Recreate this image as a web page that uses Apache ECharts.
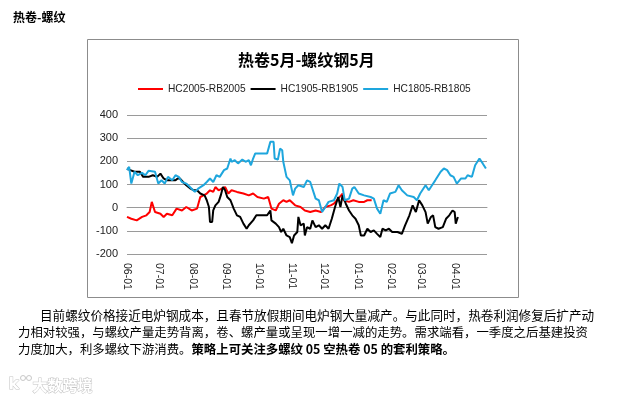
<!DOCTYPE html>
<html><head><meta charset="utf-8">
<script src="https://cdn.jsdelivr.net/npm/echarts@6/dist/echarts.min.js"></script>
<style>html,body{margin:0;padding:0;background:#fff}#c{width:622px;height:399px}</style>
</head><body><div id="c"></div>
<script>
// Series names
const seriesNames = ['HC2005-RB2005', 'HC1905-RB1905', 'HC1805-RB1805'];
// Day offsets from 06-01 and spread values (yuan/t)
const redDay = [0,4,9,14,18,21,23,24,26,31,34,37,42,46,51,55,60,65,68,71,74,77,80,82,85,88,91,94,97,102,108,113,117,121,127,131,134,138,141,145,148,151,156,161,165,170,175,180,184,189,192,196,200,201,206,210,215,220,223,227];
const redVal = [-40,-48,-55,-40,-33,-19,25,17,-19,-26,-40,-26,-33,-4,-12,3,-12,-4,46,53,61,75,68,89,75,82,89,61,75,68,61,53,61,46,39,46,-4,-12,17,32,25,32,10,3,-12,-19,-12,-19,3,10,17,39,61,32,25,32,25,25,32,32];
const blackDay = [0,3,7,12,15,20,24,28,31,34,37,40,45,47,49,52,55,59,62,65,68,72,74,76,77,79,80,82,85,87,89,91,93,96,99,102,105,108,111,113,117,120,125,130,133,134,138,141,143,145,148,151,153,155,158,159,161,164,165,167,170,172,175,178,181,184,187,190,193,196,198,200,203,206,209,212,215,217,220,223,226,229,232,235,237,240,243,246,251,255,258,262,265,268,271,274,277,279,282,284,286,289,293,296,299,302,304,305,307];
const blackVal = [169,162,155,155,133,133,140,133,147,126,118,118,118,126,126,111,97,82,75,75,61,53,32,3,-62,-62,-12,10,25,53,89,75,46,32,-4,-33,-40,-69,-91,-76,-55,-33,-33,-33,-12,-55,-69,-84,-105,-91,-120,-127,-153,-120,-105,-40,-76,-69,-120,-84,-91,-55,-84,-76,-91,-76,-91,-48,3,46,3,53,17,-12,-33,-48,-76,-120,-120,-91,-105,-98,-113,-127,-91,-98,-91,-105,-105,-113,-76,-33,10,-19,32,10,-19,-69,-40,-33,-84,-91,-84,-48,-33,-12,-19,-69,-40];
const blueDay = [0,2,4,7,10,14,17,20,26,29,32,35,38,42,45,48,51,55,60,63,66,71,74,77,80,83,86,90,93,96,97,100,103,107,110,113,115,117,119,124,130,133,136,137,140,142,144,145,148,151,154,156,159,164,167,170,175,178,181,184,187,192,195,197,200,202,206,209,211,215,220,226,229,232,235,238,241,244,249,252,255,260,266,269,272,277,280,283,286,291,294,297,300,303,306,310,314,316,320,323,327,330,333];
const blueVal = [162,176,104,155,140,150,140,159,155,104,118,104,133,118,140,133,111,104,82,68,82,97,111,126,111,140,133,162,169,212,198,205,191,208,198,205,183,212,234,234,234,284,284,212,208,255,248,198,133,118,53,82,97,89,118,111,39,32,-19,3,25,32,61,104,89,32,39,82,89,61,53,46,39,-4,-26,32,25,61,68,97,75,53,46,32,61,97,75,97,118,155,169,162,140,133,104,126,126,140,133,183,212,191,169];
// Axis
const yMin = -200, yMax = 400, yStep = 100;
const chartTitle = '热卷5月-螺纹钢5月';
const pageHeading = '热卷-螺纹';
const paraLine1 = '目前螺纹价格接近电炉钢成本，且春节放假期间电炉钢大量减产。与此同时，热卷利润修复后扩产动';
const paraLine2 = '力相对较强，与螺纹产量走势背离，卷、螺产量或呈现一增一减的走势。需求端看，一季度之后基建投资';
const paraLine3a = '力度加大，利多螺纹下游消费。';
const paraLine3b = '策略上可关注多螺纹 05 空热卷 05 的套利策略。';
const watermark = '大数跨境';

// Build daily categories 06-01 .. 05-01
const cats = [];
for (let i = 0; i <= 334; i++) {
  const d = new Date(2018, 5, 1 + i);
  cats.push(String(d.getMonth() + 1).padStart(2, '0') + '-' + String(d.getDate()).padStart(2, '0'));
}
const pairs = (days, vals) => days.map((d, i) => [d, vals[i]]);
const colors = ['#ff0000', '#000000', '#1ea6dd'];
const chart = echarts.init(document.getElementById('c'));
chart.setOption({
  animation: false,
  backgroundColor: '#fff',
  title: {
    text: chartTitle, left: 233, top: 47,
    textStyle: { fontFamily: 'Noto Sans CJK SC', fontSize: 16, fontWeight: 'bold', color: '#000' }
  },
  legend: {
    data: seriesNames, left: 138, top: 84, padding: 0, icon: 'rect', itemWidth: 25, itemHeight: 2, itemGap: 5,
    textStyle: { fontFamily: 'Liberation Sans', fontSize: 10.2, color: '#222' }
  },
  grid: { left: 127, right: 135, top: 115, bottom: 145, containLabel: false },
  xAxis: {
    type: 'category', data: cats, boundaryGap: false,
    axisLine: { lineStyle: { color: '#9a9a9a' } },
    axisTick: { show: false },
    splitLine: { show: false },
    axisLabel: {
      rotate: -90, margin: 9, fontFamily: 'Liberation Sans', fontSize: 10.5, color: '#222',
      interval: (idx, val) => val.endsWith('-01') && idx < cats.length - 1
    }
  },
  yAxis: {
    type: 'value', min: yMin, max: yMax, interval: yStep,
    axisLine: { show: false }, axisTick: { show: false },
    splitLine: { lineStyle: { color: '#9a9a9a', width: 1 } },
    axisLabel: { margin: 9, fontFamily: 'Liberation Sans', fontSize: 11, color: '#222' }
  },
  series: [
    { name: seriesNames[0], type: 'line', data: pairs(redDay, redVal), showSymbol: false, symbol: 'none', lineStyle: { width: 2, color: colors[0] }, itemStyle: { color: colors[0] } },
    { name: seriesNames[1], type: 'line', data: pairs(blackDay, blackVal), showSymbol: false, symbol: 'none', lineStyle: { width: 2, color: colors[1] }, itemStyle: { color: colors[1] } },
    { name: seriesNames[2], type: 'line', data: pairs(blueDay, blueVal), showSymbol: false, symbol: 'none', lineStyle: { width: 2, color: colors[2] }, itemStyle: { color: colors[2] } }
  ],
  graphic: [
    { type: 'rect', shape: { x: 87.5, y: 39.5, width: 431, height: 258 }, style: { fill: 'none', stroke: '#8c8c8c', lineWidth: 1 }, z: -1 },
    { type: 'text', left: 13, top: 11, style: { text: pageHeading, font: 'bold 12px "Noto Sans CJK SC"', fill: '#000' } },
    { type: 'text', left: 40, top: 309, style: { text: paraLine1, font: '12.6px "Noto Sans CJK SC"', fill: '#000' } },
    { type: 'text', left: 18, top: 326, style: { text: paraLine2, font: '12.4px "Noto Sans CJK SC"', fill: '#000' } },
    { type: 'text', left: 18, top: 343, style: {
        text: '{n|' + paraLine3a + '}{b|' + paraLine3b + '}',
        rich: { n: { font: '12.4px "Noto Sans CJK SC"', fill: '#000' }, b: { font: 'bold 12.4px "Noto Sans CJK SC"', fill: '#000' } } } },
    { type: 'circle', shape: { cx: 23, cy: 378, r: 2.5 }, style: { fill: 'none', stroke: '#c8c8c8', lineWidth: 1 } },
    { type: 'circle', shape: { cx: 29, cy: 378, r: 2.5 }, style: { fill: 'none', stroke: '#c8c8c8', lineWidth: 1 } },
    { type: 'text', left: 8, top: 376, style: { text: 'k', font: 'bold 16px "DejaVu Sans"', fill: '#fff', stroke: '#c4c4c4', lineWidth: 1 } },
    { type: 'text', left: 32, top: 377, style: { text: watermark, font: 'bold 15px "Noto Sans CJK SC"', fill: '#fff', stroke: '#c4c4c4', lineWidth: 1 } }
  ]
});
</script></body></html>
